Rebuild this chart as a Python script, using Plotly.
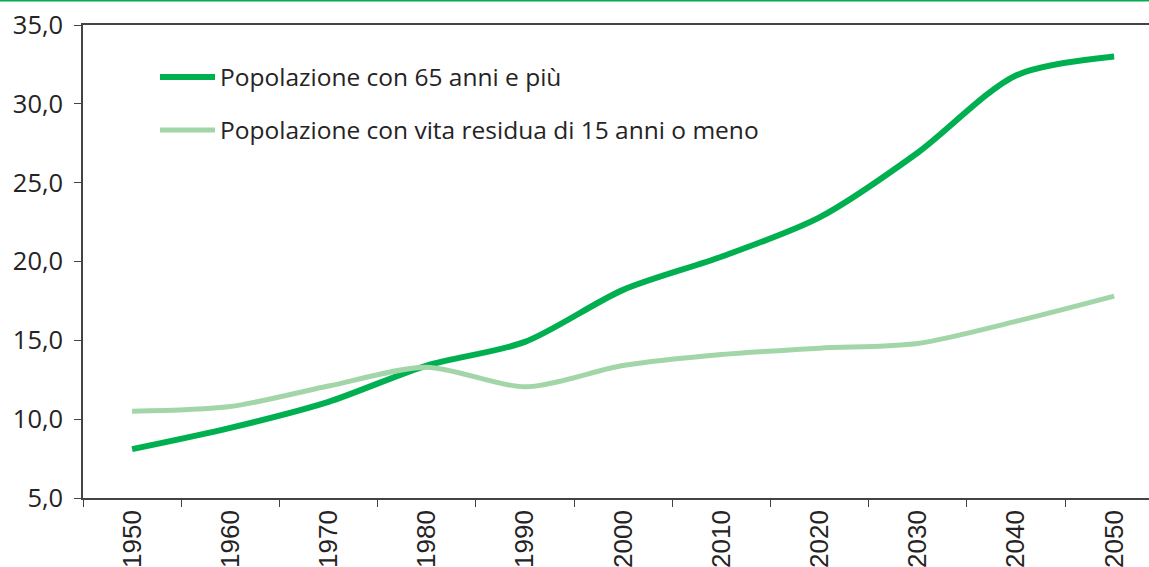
import plotly.graph_objects as go

years = ["1950", "1960", "1970", "1980", "1990", "2000", "2010", "2020", "2030", "2040", "2050"]
over65 = [8.1, 9.45, 11.1, 13.4, 14.9, 18.2, 20.3, 22.8, 26.9, 31.8, 33.0]
residual15 = [10.5, 10.8, 12.1, 13.3, 12.05, 13.4, 14.1, 14.5, 14.8, 16.2, 17.8]
series_names = ["Popolazione con 65 anni e più", "Popolazione con vita residua di 15 anni o meno"]

FONT = "'Open Sans', Lato, sans-serif"
XFONT = "'Liberation Sans', Arial, sans-serif"
TXT = "#262324"

W, H = 1149, 567
L, T, B = 83, 25, 69
pw = W - L
ph = H - T - B


def py(pix):
    return 1 - (pix - T) / ph


fig = go.Figure()
fig.add_trace(go.Scatter(x=years, y=over65, name=series_names[0], mode="lines", legend="legend",
                         line=dict(color="#00b050", width=6, shape="spline", smoothing=0.8)))
fig.add_trace(go.Scatter(x=years, y=residual15, name=series_names[1], mode="lines", legend="legend2",
                         line=dict(color="#a2d6a9", width=5, shape="spline", smoothing=0.8)))

leg_common = dict(xanchor="left", yanchor="middle", bgcolor="rgba(0,0,0,0)",
                  font=dict(size=24.5, color=TXT, family=FONT), itemwidth=55)

fig.update_layout(
    width=W, height=H,
    margin=dict(l=L, r=0, t=T, b=B, autoexpand=False),
    plot_bgcolor="white", paper_bgcolor="white",
    separators=",.",
    font=dict(family=FONT, color=TXT, size=22),
    showlegend=True,
    legend=dict(x=(155 - L) / pw, y=py(77), **leg_common),
    legend2=dict(x=(155 - L) / pw, y=py(130), **leg_common),
    xaxis=dict(type="category", range=[-0.5, 10.355], showline=True, linecolor="#444",
               linewidth=1.5, mirror=True, ticks="outside", ticklen=7, tickcolor="#444",
               tickson="boundaries", tickangle=-90, showgrid=False, zeroline=False,
               tickfont=dict(size=26, color=TXT, family=XFONT), automargin=False),
    yaxis=dict(range=[5, 35], dtick=5, tickformat=".1f", showline=True, linecolor="#444",
               linewidth=1.5, ticks="outside", ticklen=7, tickcolor="#444",
               ticklabelstandoff=6,
               showgrid=False, zeroline=False, tickfont=dict(size=25.5, color=TXT),
               automargin=False),
)

fig.add_shape(type="line", xref="paper", yref="paper",
              x0=-L / pw, x1=1.0, y0=1 + (T - 0.5) / ph, y1=1 + (T - 0.5) / ph,
              line=dict(color="#00b050", width=2))

fig.write_html("out.html", config={"displayModeBar": False},
               post_script="document.body.style.margin='0';document.body.style.overflow='hidden';")
